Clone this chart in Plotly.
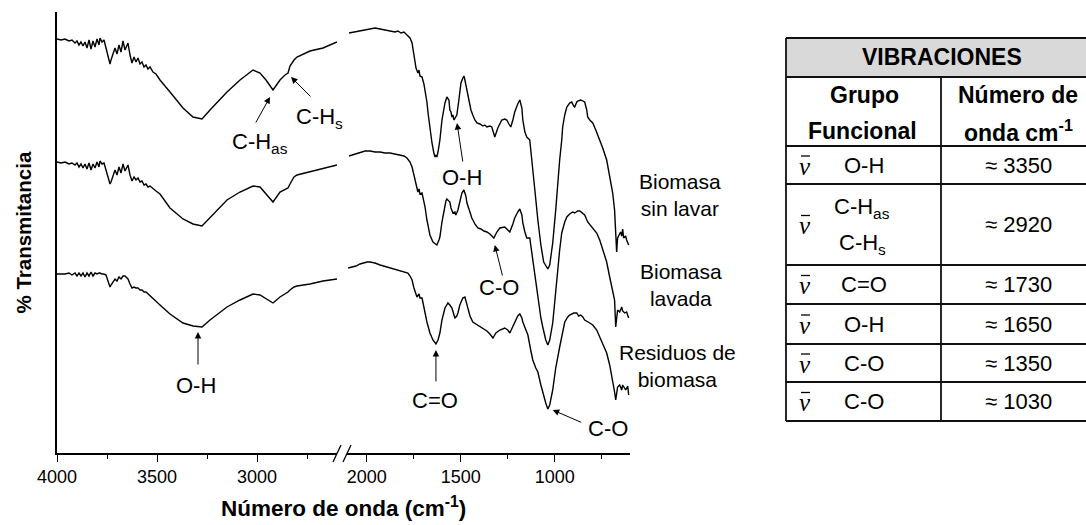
import plotly.graph_objects as go

# ---------------- DATA ----------------
# Left segment (4000-2600 cm-1): shared wavenumber grid
wn_left = [4000, 3980, 3960, 3940, 3925, 3910, 3900, 3890, 3880, 3870,
           3860, 3850, 3840, 3830, 3820, 3810, 3800, 3790, 3785, 3775,
           3765, 3755, 3745, 3735, 3730, 3720, 3710, 3700, 3690, 3680,
           3670, 3660, 3650, 3645, 3635, 3625, 3615, 3605, 3595, 3585,
           3575, 3565, 3555, 3545, 3535, 3520, 3505, 3485, 3435, 3370,
           3320, 3275, 3235, 3150, 3085, 3020, 2985, 2955, 2920, 2885,
           2860, 2845, 2835, 2815, 2800, 2735, 2670, 2600]

# Transmittance (offset, arbitrary units)
t_sin_lavar_left = [414, 413, 414, 412, 413, 410, 412, 408, 411, 407,
                    411, 405, 413, 404, 412, 406, 414, 408, 415, 411,
                    413, 405, 397, 389, 393, 398, 405, 399, 408, 401,
                    412, 403, 409, 410, 398, 390, 396, 391, 395, 389,
                    391, 386, 388, 384, 386, 381, 379, 373, 361, 345,
                    336, 334, 343, 361, 373, 383, 380, 373, 363, 373,
                    378, 380, 387, 393, 396, 402, 405, 411]
t_lavada_left = [291, 290, 291, 289, 290, 288, 290, 286, 289, 285,
                 289, 284, 290, 283, 289, 285, 291, 286, 292, 289,
                 290, 283, 276, 269, 271, 277, 283, 278, 286, 280,
                 289, 282, 287, 288, 278, 272, 276, 273, 275, 271,
                 272, 268, 269, 266, 267, 264, 262, 259, 245, 234,
                 229, 227, 235, 253, 261, 267, 266, 259, 251, 261,
                 264, 265, 269, 276, 278, 281, 284, 288]
t_residuos_left = [179, 179, 179, 180, 178, 180, 177, 180, 177, 180,
                   176, 180, 177, 181, 177, 180, 179, 180, 180, 179,
                   179, 178, 173, 166, 168, 171, 174, 172, 176, 174,
                   177, 177, 175, 174, 169, 165, 166, 165, 165, 163,
                   163, 161, 161, 159, 158, 155, 152, 148, 139, 130,
                   127, 126, 133, 146, 153, 159, 158, 154, 150, 156,
                   159, 161, 163, 166, 167, 169, 172, 174]

# Right segment (2100-600 cm-1)
wn_sin_lavar_right = [2094, 2062, 2036, 2009, 1982, 1956, 1929, 1903, 1876, 1850,
                      1834, 1818, 1802, 1786, 1770, 1759, 1754, 1744, 1738, 1728,
                      1722, 1717, 1706, 1696, 1690, 1680, 1674, 1664, 1653, 1643,
                      1637, 1632, 1627, 1621, 1611, 1600, 1595, 1584, 1574, 1563,
                      1558, 1552, 1547, 1542, 1536, 1531, 1521, 1510, 1499, 1489,
                      1483, 1478, 1467, 1457, 1446, 1436, 1425, 1414, 1398, 1382,
                      1372, 1361, 1345, 1335, 1319, 1303, 1282, 1266, 1255, 1244,
                      1234, 1223, 1213, 1197, 1186, 1175, 1170, 1159, 1149, 1133,
                      1117, 1106, 1090, 1074, 1059, 1037, 1027, 1011, 995, 984,
                      974, 963, 958, 947, 936, 921, 910, 899, 894, 883,
                      878, 862, 841, 830, 825, 814, 798, 782, 761, 745,
                      724, 708, 692, 682, 676, 671, 666, 660, 650, 644,
                      639, 634, 623, 618, 607]
t_sin_lavar_right = [420, 421, 422, 423, 424, 425, 424, 423, 422, 421,
                     422, 420, 421, 418, 415, 410, 403, 393, 385, 380,
                     383, 377, 376, 369, 363, 351, 340, 325, 310, 300,
                     296, 298, 296, 301, 313, 333, 340, 350, 356, 353,
                     343, 341, 336, 338, 333, 335, 338, 353, 370, 375,
                     377, 373, 363, 353, 343, 338, 333, 330, 329, 327,
                     328, 326, 327, 326, 316, 325, 333, 334, 333, 329,
                     326, 333, 341, 349, 353, 345, 333, 321, 316, 313,
                     286, 263, 233, 208, 191, 184, 188, 210, 243, 273,
                     293, 313, 326, 338, 346, 350, 351, 347, 346, 351,
                     352, 353, 351, 343, 336, 333, 330, 323, 313, 305,
                     293, 278, 260, 243, 223, 201, 215, 218, 221, 217,
                     224, 215, 217, 213, 208]

wn_lavada_right = [2094, 2062, 2036, 2009, 1982, 1956, 1929, 1903, 1876, 1850,
                   1823, 1802, 1786, 1770, 1759, 1749, 1744, 1733, 1728, 1722,
                   1717, 1706, 1696, 1690, 1680, 1674, 1664, 1648, 1637, 1627,
                   1616, 1611, 1600, 1590, 1579, 1574, 1563, 1558, 1552, 1542,
                   1531, 1526, 1515, 1505, 1494, 1483, 1473, 1467, 1451, 1441,
                   1425, 1409, 1393, 1377, 1361, 1345, 1324, 1308, 1292, 1266,
                   1250, 1239, 1223, 1213, 1197, 1186, 1175, 1170, 1159, 1149,
                   1133, 1117, 1101, 1090, 1074, 1064, 1048, 1037, 1027, 1011,
                   995, 984, 974, 963, 947, 936, 921, 905, 894, 878,
                   867, 851, 841, 825, 804, 777, 761, 745, 724, 708,
                   692, 682, 676, 671, 666, 655, 644, 639, 628, 618,
                   607]
t_lavada_right = [297, 299, 301, 302, 302, 301, 301, 300, 300, 299,
                  298, 297, 295, 291, 286, 278, 273, 263, 261, 264,
                  259, 260, 253, 246, 233, 226, 218, 211, 209, 208,
                  213, 216, 231, 243, 252, 254, 252, 251, 245, 240,
                  241, 238, 243, 253, 260, 263, 257, 250, 241, 235,
                  229, 225, 224, 222, 221, 219, 215, 221, 225, 226,
                  223, 221, 229, 235, 241, 244, 238, 230, 221, 215,
                  215, 193, 168, 153, 135, 126, 113, 108, 113, 130,
                  158, 183, 203, 220, 231, 236, 239, 241, 240, 242,
                  242, 240, 238, 231, 226, 220, 213, 203, 191, 176,
                  163, 153, 126, 133, 143, 141, 146, 142, 140, 141,
                  135]

wn_residuos_right = [2099, 2078, 2057, 2036, 2020, 1998, 1982, 1956, 1929, 1892,
                     1860, 1823, 1797, 1781, 1770, 1759, 1749, 1738, 1733, 1722,
                     1717, 1706, 1696, 1690, 1680, 1664, 1648, 1632, 1621, 1611,
                     1600, 1584, 1568, 1558, 1547, 1536, 1531, 1521, 1515, 1505,
                     1489, 1478, 1467, 1462, 1451, 1436, 1409, 1382, 1361, 1345,
                     1329, 1313, 1292, 1266, 1250, 1239, 1223, 1213, 1197, 1186,
                     1175, 1170, 1154, 1143, 1128, 1117, 1101, 1090, 1074, 1064,
                     1048, 1037, 1027, 1011, 995, 974, 958, 947, 931, 921,
                     899, 883, 873, 862, 851, 841, 814, 798, 777, 761,
                     740, 724, 708, 692, 682, 676, 671, 666, 655, 644,
                     639, 628, 623, 612, 607]
t_residuos_right = [185, 186, 187, 189, 190, 191, 191, 190, 188, 186,
                    184, 182, 181, 180, 177, 173, 165, 158, 156, 159,
                    155, 155, 145, 138, 131, 120, 113, 109, 113, 120,
                    133, 145, 150, 148, 145, 138, 135, 137, 140, 148,
                    155, 156, 148, 143, 137, 131, 128, 125, 122, 119,
                    115, 120, 123, 125, 123, 120, 127, 131, 137, 139,
                    135, 131, 123, 118, 103, 93, 85, 81, 68, 60,
                    50, 44, 48, 63, 85, 106, 121, 131, 136, 138,
                    140, 140, 137, 138, 136, 133, 130, 128, 123, 116,
                    108, 100, 88, 73, 61, 53, 58, 66, 68, 63,
                    68, 65, 63, 67, 58]

x_major_left = [4000, 3500, 3000]
x_minor_left = [3750, 3250, 2750]
x_major_right = [2000, 1500, 1000]
x_minor_right = [1750, 1250, 750]

sample_labels = ["Biomasa<br>sin lavar", "Biomasa<br>lavada", "Residuos de<br>biomasa"]

# band labels: (text, axis, wavenumber, transmittance)
band_labels = [("C-H<sub>as</sub>", "x", 2987, 310),
               ("C-H<sub>s</sub>", "x", 2687, 335),
               ("O-H", "x2", 1494, 276),
               ("C-O", "x2", 1297, 166),
               ("O-H", "x", 3305, 68),
               ("C=O", "x2", 1637, 53),
               ("C-O", "x2", 719, 25)]
# arrow tips: (axis, wavenumber, transmittance, tail dx, tail dy)
band_arrows = [("x", 2935, 356, -15, 27),
               ("x", 2830, 376, 21, 21),
               ("x2", 1520, 330, 6, 40),
               ("x2", 1319, 208, 8, 32),
               ("x", 3295, 121, 0, 34),
               ("x2", 1632, 103, 0, 33),
               ("x2", 1011, 43, 30, 13)]

table_title = "VIBRACIONES"
table_head = ["Grupo", "Funcional", "Número de", "onda cm<sup>-1</sup>"]
table_groups = ["O-H", "C-H", "C=O", "O-H", "C-O", "C-O"]
table_values = ["≈ 3350", "≈ 2920", "≈ 1730", "≈ 1650", "≈ 1350", "≈ 1030"]

# ---------------- FIGURE ----------------
W, H = 1086, 525
L, R, T, B = 57, 630, 12, 453
FONT = "Arial, Liberation Sans, sans-serif"


def px(x):
    return (x - L) / (R - L)


def py(y):
    return (B - y) / (B - T)


def text_ann(text, x, y, size, xref="paper", yref="paper", family=FONT, **kw):
    return dict(text=text, xref=xref, yref=yref, x=x, y=y, showarrow=False,
                xanchor="center", yanchor="middle",
                font=dict(family=family, size=size, color="black"), **kw)


fig = go.Figure()
line = dict(color="black", width=1.4)
for yv in (t_sin_lavar_left, t_lavada_left, t_residuos_left):
    fig.add_trace(go.Scatter(x=wn_left, y=yv, mode="lines", line=line,
                             xaxis="x", yaxis="y", showlegend=False, hoverinfo="skip"))
for xv, yv in ((wn_sin_lavar_right, t_sin_lavar_right),
               (wn_lavada_right, t_lavada_right),
               (wn_residuos_right, t_residuos_right)):
    fig.add_trace(go.Scatter(x=xv, y=yv, mode="lines", line=line,
                             xaxis="x2", yaxis="y", showlegend=False, hoverinfo="skip"))

axis_common = dict(showline=True, linecolor="black", linewidth=1.5, showgrid=False,
                   zeroline=False, ticks="outside", ticklen=7, tickwidth=1.2,
                   tickcolor="black", tickfont=dict(family=FONT, size=18, color="black"),
                   anchor="y")
fig.update_layout(
    width=W, height=H,
    margin=dict(l=L, r=W - R, t=T, b=H - B),
    paper_bgcolor="white", plot_bgcolor="white",
    xaxis=dict(domain=[0, px(337)], range=[4000, 2600], tickvals=x_major_left,
               minor=dict(tickvals=x_minor_left, ticklen=4, ticks="outside",
                          tickcolor="black", tickwidth=1.2),
               **axis_common),
    xaxis2=dict(domain=[px(347), 1], range=[2105, 600], tickvals=x_major_right,
                minor=dict(tickvals=x_minor_right, ticklen=4, ticks="outside",
                           tickcolor="black", tickwidth=1.2),
                **axis_common),
    yaxis=dict(domain=[0, 1], range=[0, 441], showline=True, linecolor="black",
               linewidth=1.5, showgrid=False, zeroline=False, showticklabels=False,
               ticks=""),
    showlegend=False,
)

shapes = []
# axis break marks
for x0 in (333, 343):
    shapes.append(dict(type="line", xref="paper", yref="paper",
                       x0=px(x0), y0=py(462), x1=px(x0 + 8), y1=py(445),
                       line=dict(color="black", width=1.3)))

# table
rows_y = [38, 77, 146, 184, 265, 304, 344, 382, 421]
tx0, tx1, tx2 = 786, 941, 1100
shapes.append(dict(type="rect", xref="paper", yref="paper", x0=px(tx0), x1=px(tx2),
                   y0=py(rows_y[0]), y1=py(rows_y[1]), fillcolor="#d9d9d9",
                   line=dict(width=0), layer="below"))
tline = dict(color="#111111", width=1.8)
for yy in rows_y:
    shapes.append(dict(type="line", xref="paper", yref="paper", x0=px(tx0), x1=px(tx2),
                       y0=py(yy), y1=py(yy), line=tline))
shapes.append(dict(type="line", xref="paper", yref="paper", x0=px(tx0), x1=px(tx0),
                   y0=py(rows_y[0]), y1=py(rows_y[-1]), line=tline))
shapes.append(dict(type="line", xref="paper", yref="paper", x0=px(tx1), x1=px(tx1),
                   y0=py(rows_y[1]), y1=py(rows_y[-1]), line=tline))

row_centers = [165, 224.5, 284.5, 324, 363, 401.5]
# macron bars over the nu symbols
for cy in row_centers:
    shapes.append(dict(type="line", xref="paper", yref="paper", x0=px(801), x1=px(810),
                       y0=py(cy - 9), y1=py(cy - 9),
                       line=dict(color="black", width=1.3)))
fig.update_layout(shapes=shapes)

ann = []
# axis titles
ann.append(text_ann("<b>% Transmitancia</b>", px(23), py(232.5), 20.5, textangle=-90))
ann.append(text_ann("<b>Número de onda (cm<sup>-1</sup>)</b>", px(343), py(507), 22.5))
# band labels
for txt, ax_, xv, yv in band_labels:
    ann.append(text_ann(txt, xv, yv, 22, xref=ax_, yref="y"))
for ax_, xv, yv, dx, dy in band_arrows:
    ann.append(dict(text="", xref=ax_, yref="y", x=xv, y=yv, ax=dx, ay=dy,
                    showarrow=True, arrowhead=2, arrowsize=1.3, arrowwidth=1,
                    arrowcolor="black", standoff=0))
# sample labels
for txt, (cx, cy) in zip(sample_labels, [(680, 195), (681, 285), (677, 366)]):
    ann.append(text_ann(txt, px(cx), py(cy), 21))

# table texts
ann.append(text_ann("<b>" + table_title + "</b>", px(942), py(57), 23))
for txt, (cx, cy) in zip(table_head, [(864, 95), (863, 131), (1018, 95), (1018, 131)]):
    ann.append(text_ann("<b>" + txt + "</b>", px(cx), py(cy), 23))
for g, v, cy in zip(table_groups, table_values, row_centers):
    ann.append(text_ann("<i>ν</i>", px(805), py(cy + 1), 25,
                        family="Liberation Serif, DejaVu Serif, serif"))
    if g == "C-H":
        ann.append(text_ann("C-H<sub>as</sub>", px(862), py(cy - 17), 22))
        ann.append(text_ann("C-H<sub>s</sub>", px(863), py(cy + 19), 22))
    else:
        ann.append(text_ann(g, px(864), py(cy), 22))
    ann.append(text_ann(v, px(1018), py(cy), 22))

fig.update_layout(annotations=ann)
fig.write_html("out.html", config={"displayModeBar": False},
               post_script="document.body.style.margin='0px';document.body.style.padding='0px';")
